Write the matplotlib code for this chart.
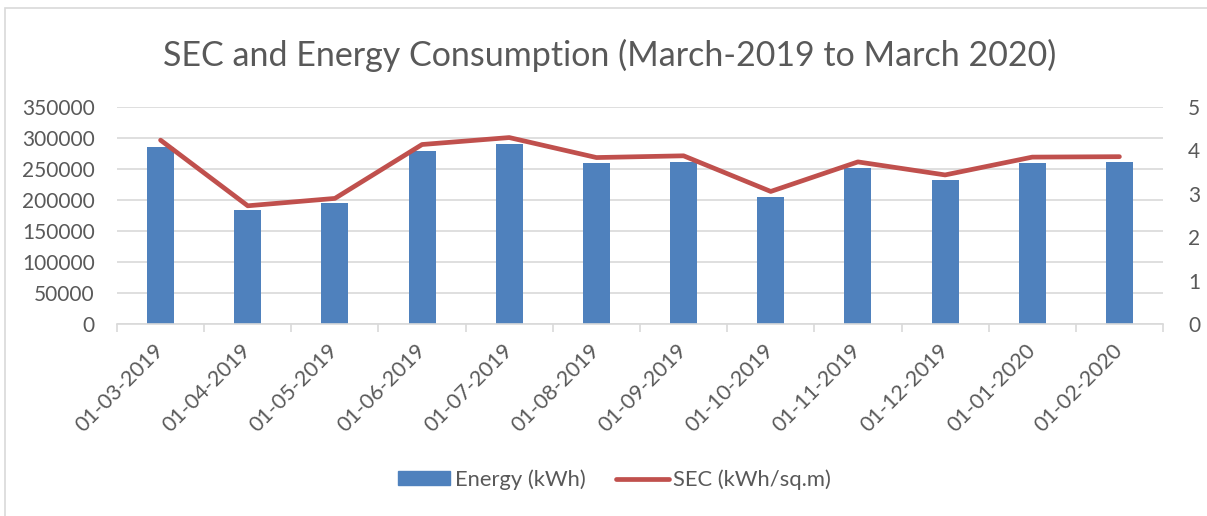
import numpy as np
from matplotlib import pyplot as plt
from matplotlib.patches import Rectangle
from matplotlib.lines import Line2D

plt.rcParams['font.family'] = ['Lato', 'DejaVu Sans']

months = ['01-03-2019', '01-04-2019', '01-05-2019', '01-06-2019',
          '01-07-2019', '01-08-2019', '01-09-2019', '01-10-2019',
          '01-11-2019', '01-12-2019', '01-01-2020', '01-02-2020']
energy = [285700, 183500, 195200, 278800, 290000, 259000,
          261500, 205300, 252000, 232000, 259500, 261000]
sec = [4.23, 2.72, 2.89, 4.13, 4.29, 3.83,
       3.87, 3.05, 3.73, 3.43, 3.84, 3.85]

grey = '#595959'
grid = '#D9D9D9'
blue = '#4F81BD'
red = '#C0504D'

fig = plt.figure(figsize=(12.07, 5.16), dpi=100)
ax = fig.add_axes([117/1207, 1-324/516, (1163-117)/1207, (324-106.7)/516])

x = np.arange(len(months))
ax.bar(x, energy, width=0.31, color=blue, zorder=2)
ax.set_xlim(-0.5, len(months) - 0.5)
ax.set_ylim(0, 350000)
ax.set_yticks(np.arange(0, 350001, 50000))
ax.grid(axis='y', color=grid, lw=1.2, zorder=0)
ax.set_axisbelow(True)
for s in ['top', 'left', 'right']:
    ax.spines[s].set_visible(False)
ax.spines['bottom'].set_color(grid)
ax.spines['bottom'].set_linewidth(1.2)

# tick marks between categories, labels at centres
ax.set_xticks(np.arange(-0.5, len(months), 1))
ax.set_xticklabels([])
ax.tick_params(axis='x', which='major', length=6, color=grid, width=1.2)
ax.set_xticks(x, minor=True)
ax.set_xticklabels(months, minor=True, rotation=45, ha='right',
                   va='center', rotation_mode='anchor')
ax.tick_params(axis='x', which='minor', length=0, pad=17,
               labelsize=15.5, labelcolor=grey)
ax.tick_params(axis='y', length=0, pad=16, labelsize=15, labelcolor=grey)

ax2 = ax.twinx()
ax2.plot(x, sec, color=red, lw=3.4, solid_capstyle='round',
         solid_joinstyle='round')
ax2.set_ylim(0, 5)
ax2.set_yticks(range(6))
ax2.tick_params(axis='y', length=0, pad=18, labelsize=15, labelcolor=grey)
for s in ax2.spines.values():
    s.set_visible(False)

fig.text(0.505, 0.893, 'SEC and Energy Consumption (March-2019 to March 2020)',
         ha='center', va='center', fontsize=24.5, color=grey)

handles = [Rectangle((0, 0), 1, 1, color=blue),
           Line2D([], [], color=red, lw=3.4, solid_capstyle='round')]
fig.legend(handles, ['Energy (kWh)', 'SEC (kWh/sq.m)'], loc='center',
           bbox_to_anchor=(0.509, 0.07), ncol=2, frameon=False,
           fontsize=15.8, labelcolor=grey, handlelength=2.4, handleheight=0.6,
           handletextpad=0.2, columnspacing=1.4)

fig.patches.append(Rectangle((5/1207, -0.1), 1.1, 1 - 8/516 + 0.1,
                             transform=fig.transFigure, fill=False,
                             ec=grid, lw=1.2))

fig.savefig('out.png', dpi=100)
